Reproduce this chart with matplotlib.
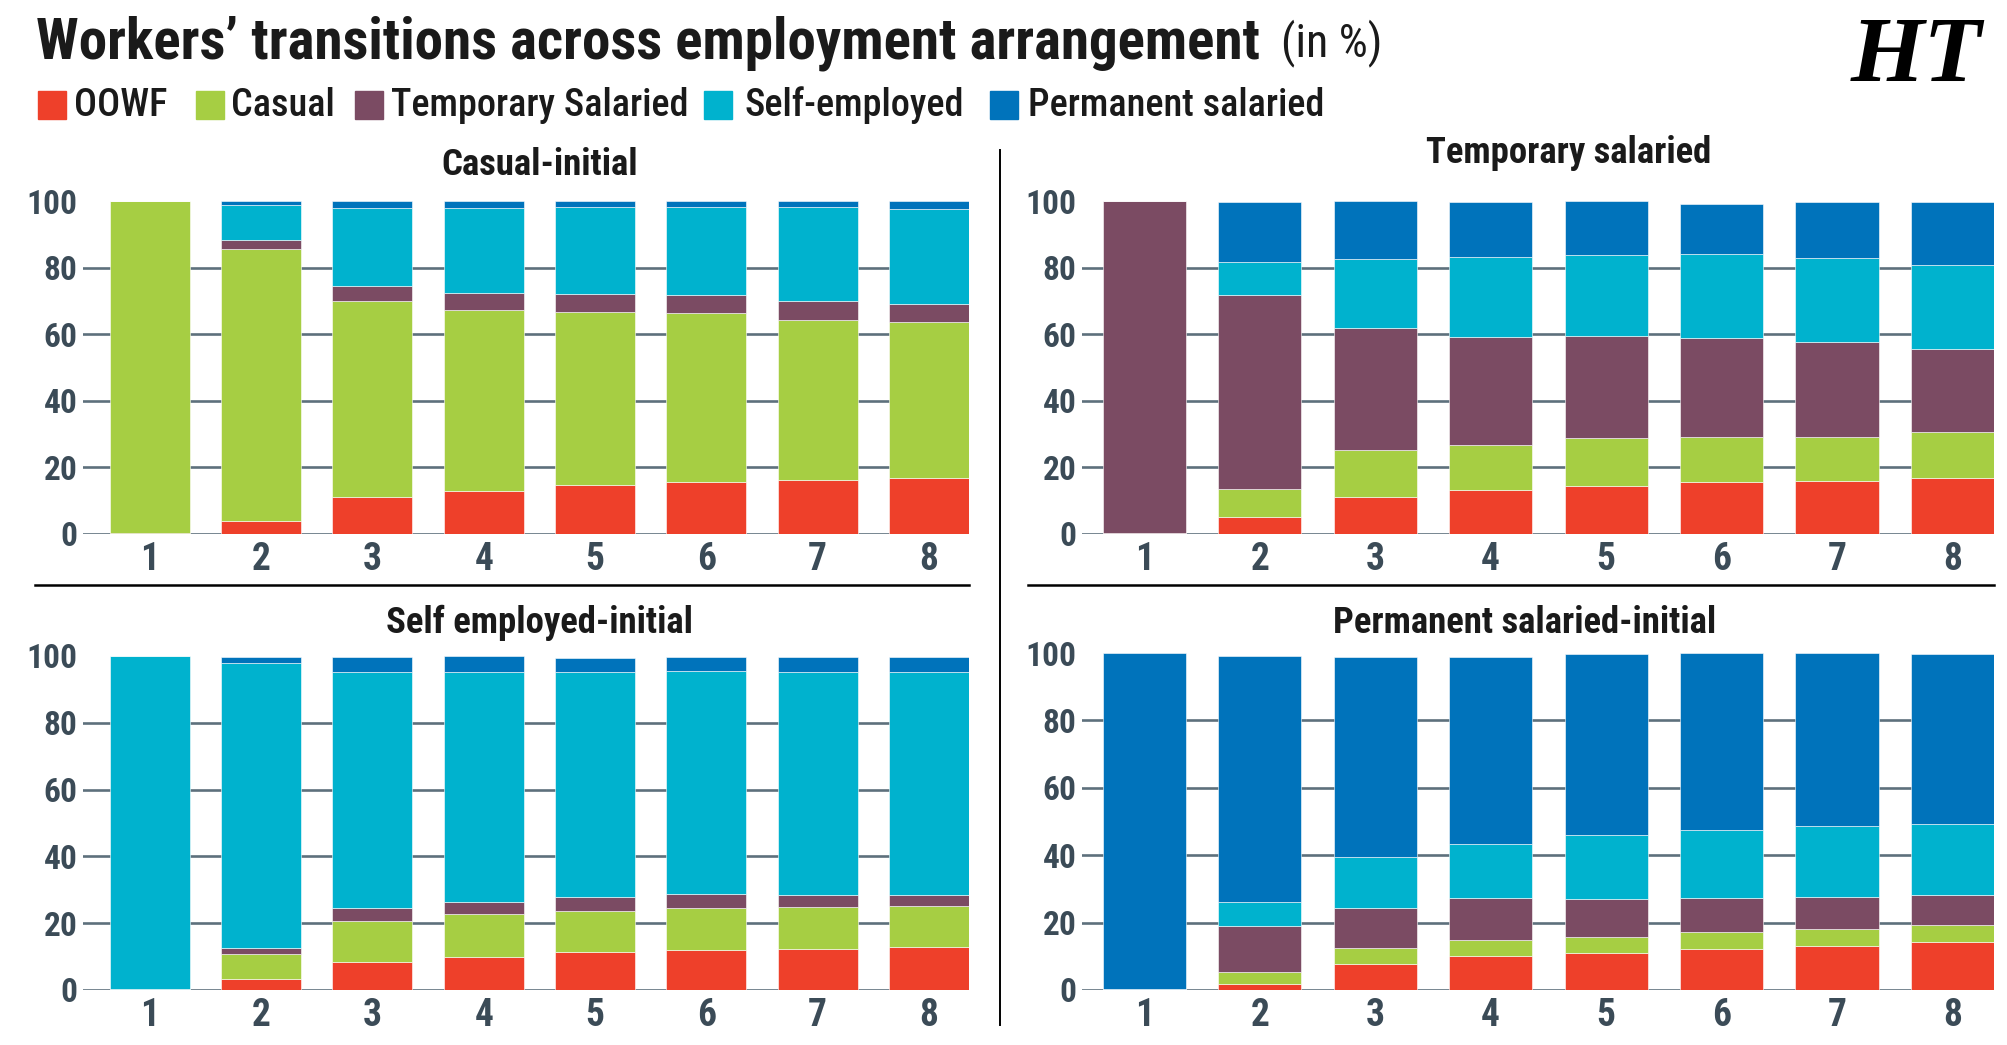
import numpy as np
import matplotlib
matplotlib.use("Agg")
import matplotlib.pyplot as plt
from matplotlib.patches import Rectangle
from matplotlib import font_manager

# =========================
# DATA (in %)
# =========================

periods = [1, 2, 3, 4, 5, 6, 7, 8]
series_names = ["OOWF", "Casual", "Temporary Salaried", "Self-employed", "Permanent salaried"]
colors = ["#ee402a", "#a6ce43", "#7b4b63", "#00b2ce", "#0073bb"]

# Casual-initial
cas_oowf = [0.3, 3.9, 11.0, 13.0, 14.6, 15.6, 16.2, 16.9]
cas_casual = [99.7, 81.6, 58.9, 54.4, 52.2, 50.7, 48.1, 46.7]
cas_temp = [0, 2.9, 4.7, 5.1, 5.3, 5.6, 5.7, 5.5]
cas_self = [0, 10.3, 23.2, 25.3, 26.0, 26.2, 28.1, 28.5]
cas_perm = [0, 1.3, 2.2, 2.2, 1.9, 1.9, 1.9, 2.4]

# Temporary salaried
tmp_oowf = [0.3, 5.0, 11.2, 13.1, 14.4, 15.5, 16.0, 16.7]
tmp_casual = [0, 8.6, 13.9, 13.7, 14.5, 13.6, 13.1, 13.9]
tmp_temp = [99.7, 58.3, 36.9, 32.5, 30.6, 29.9, 28.5, 25.1]
tmp_self = [0, 9.7, 20.6, 24.0, 24.2, 25.1, 25.3, 25.2]
tmp_perm = [0, 18.2, 17.4, 16.5, 16.3, 14.9, 16.9, 18.9]

# Self employed-initial
sel_oowf = [0.3, 3.2, 8.3, 9.9, 11.4, 11.9, 12.4, 13.0]
sel_casual = [0, 7.6, 12.4, 12.9, 12.3, 12.8, 12.5, 12.2]
sel_temp = [0, 1.9, 3.9, 3.6, 4.0, 4.0, 3.6, 3.3]
sel_self = [99.7, 85.1, 70.7, 68.9, 67.6, 66.8, 66.8, 66.8]
sel_perm = [0, 2.0, 4.4, 4.6, 4.2, 4.2, 4.4, 4.4]

# Permanent salaried-initial
per_oowf = [0.3, 1.8, 7.7, 10.1, 11.0, 12.3, 13.1, 14.3]
per_casual = [0, 3.5, 4.7, 4.8, 4.8, 4.9, 5.0, 5.0]
per_temp = [0, 13.8, 11.9, 12.4, 11.2, 10.2, 9.6, 8.8]
per_self = [0, 7.0, 15.2, 16.0, 18.9, 20.1, 21.0, 21.2]
per_perm = [99.7, 72.9, 59.3, 55.5, 53.9, 52.5, 51.2, 50.5]

panel_titles = ["Casual-initial", "Temporary salaried",
                "Self employed-initial", "Permanent salaried-initial"]
panel_data = [
    [cas_oowf, cas_casual, cas_temp, cas_self, cas_perm],
    [tmp_oowf, tmp_casual, tmp_temp, tmp_self, tmp_perm],
    [sel_oowf, sel_casual, sel_temp, sel_self, sel_perm],
    [per_oowf, per_casual, per_temp, per_self, per_perm],
]

# =========================
# FONTS (narrow sans, Roboto Condensed if there)
# =========================

def find_file(keys, fallback_weight):
    for k in keys:
        for f in font_manager.fontManager.ttflist:
            if f.fname.lower().endswith(k.lower()):
                return font_manager.FontProperties(fname=f.fname)
    return font_manager.FontProperties(family="DejaVu Sans",
                                       weight=fallback_weight)

FB = find_file(["RobotoCondensed-Bold.ttf"], "bold")
FM = find_file(["RobotoCondensed-Medium.ttf", "RobotoCondensed-SemiBold.ttf",
                "RobotoCondensed-Bold.ttf"], "bold")
FR = find_file(["RobotoCondensed-Regular.ttf"], "normal")

def fp(base, size):
    p = base.copy()
    p.set_size(size)
    return p

TICK_COLOR = "#3b4b57"
GRID_COLOR = "#5d707c"

# =========================
# FIGURE
# =========================

W, H = 2008, 1045
fig = plt.figure(figsize=(W / 100, H / 100), dpi=100)

# axes boxes in pixels: left, right, y of 100, y of 0
boxes = [
    (83, 969, 201, 534),
    (1082, 1994, 201, 534),
    (83, 969, 656, 990),
    (1082, 1994, 653, 990),
]
xlefts = [0.40, 0.46, 0.40, 0.46]
title_pos = [(540, 165), (1569, 153), (540, 623), (1525, 623)]

for i, (l, r, t, b) in enumerate(boxes):
    ax = fig.add_axes([l / W, 1 - b / H, (r - l) / W, (b - t) / H])
    bottom = np.zeros(len(periods))
    for vals, c in zip(panel_data[i], colors):
        ax.bar(periods, vals, bottom=bottom, width=0.72, color=c,
               edgecolor="#ffffff", linewidth=0.4, zorder=3)
        bottom += np.array(vals)

    ax.set_xlim(xlefts[i], 8.36)
    ax.set_ylim(0, 100)
    ax.set_yticks([0, 20, 40, 60, 80, 100])
    ax.set_xticks(periods)
    ax.set_axisbelow(True)
    ax.yaxis.grid(True, color=GRID_COLOR, linewidth=1.9)
    ax.get_ygridlines()[-1].set_visible(False)
    ax.xaxis.grid(False)
    for s in ax.spines.values():
        s.set_visible(False)
    ax.tick_params(axis="both", length=0, colors=TICK_COLOR)
    ax.tick_params(axis="y", pad=4)
    ax.tick_params(axis="x", pad=5)
    for lab in ax.get_yticklabels():
        lab.set_fontproperties(fp(FB, 24))
    for lab in ax.get_xticklabels():
        lab.set_fontproperties(fp(FB, 27))
    ax.patch.set_alpha(0)

    fig.text(title_pos[i][0] / W, 1 - title_pos[i][1] / H, panel_titles[i],
             ha="center", va="center", fontproperties=fp(FB, 26.5),
             color="#1a1a1a")

# separators
fig.add_artist(plt.Line2D([35 / W, 969 / W], [1 - 585 / H] * 2,
                          color="black", linewidth=1.8))
fig.add_artist(plt.Line2D([1028 / W, 1994 / W], [1 - 585 / H] * 2,
                          color="black", linewidth=1.8))
fig.add_artist(plt.Line2D([1000 / W] * 2, [1 - 150 / H, 1 - 1025 / H],
                          color="black", linewidth=1.4))

# =========================
# TITLE AND LEGEND
# =========================

fig.text(36 / W, 1 - 43 / H,
         "Workers\u2019 transitions across employment arrangement",
         ha="left", va="center", fontproperties=fp(FB, 41), color="#1a1a1a")
fig.text(1281 / W, 1 - 43 / H, "(in %)", ha="left", va="center",
         fontproperties=fp(FR, 33), color="#1a1a1a")

fig.text(1916 / W, 1 - 58 / H, "HT", ha="center", va="center",
         fontsize=68, fontweight="bold", fontstyle="italic",
         family="Liberation Serif", color="black")

sq_x = [38, 196, 355, 704, 990]
txt_x = [74, 231, 391, 745, 1028]
for name, c, sx, tx in zip(series_names, colors, sq_x, txt_x):
    fig.add_artist(Rectangle((sx / W, 1 - 119 / H), 28 / W, 28 / H,
                             transform=fig.transFigure, color=c))
    fig.text(tx / W, 1 - 105 / H, name, ha="left", va="center",
             fontproperties=fp(FM, 27.5), color="#1a1a1a")

fig.savefig("out.png", dpi=100)
